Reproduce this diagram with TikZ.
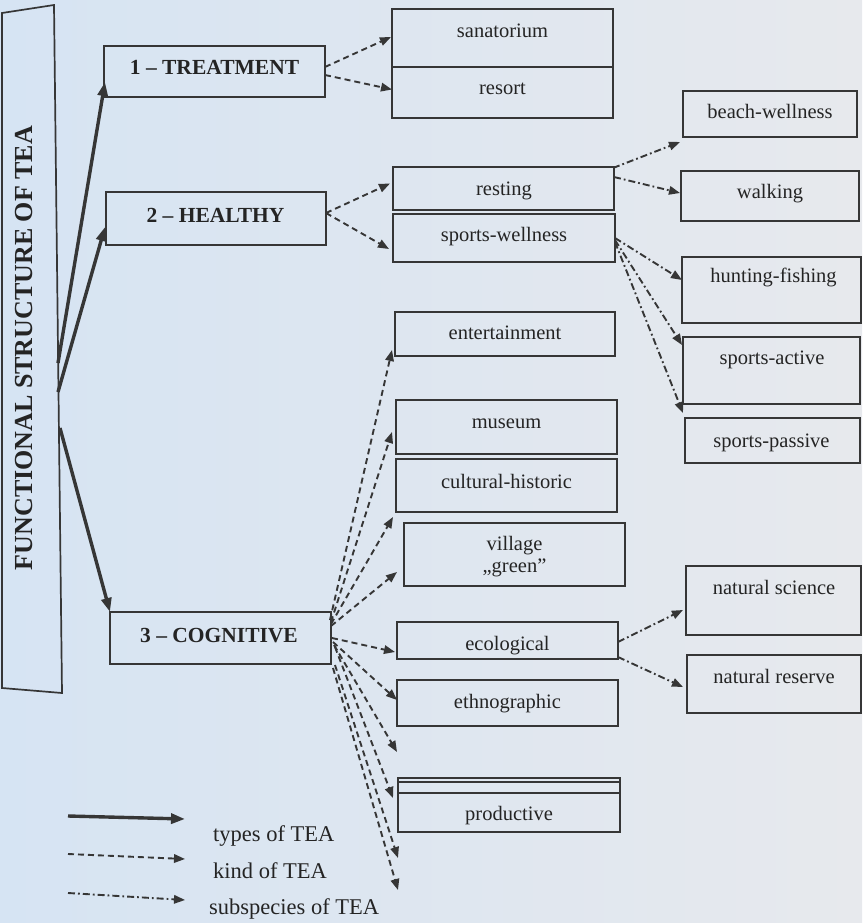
\documentclass[tikz,border=0pt]{standalone}
\usepackage{fontspec}
\setmainfont{Liberation Serif}
\usetikzlibrary{arrows.meta,calc}
\definecolor{ink}{HTML}{363636}
\definecolor{txt}{HTML}{242424}
\definecolor{bgl}{HTML}{D6E4F3}
\definecolor{bgr}{HTML}{E7E9ED}
\newcommand\mkbox[5]{\node[box, minimum width={(#4-#2)*1pt}, minimum height={(#5-#3)*1pt}] (#1) at ({(#2+#4)/2},{(#3+#5)/2}) {};}
\newcommand\mklbl[4]{\node[lbl] (#1) at (#2,#3) {#4};}
\newcommand\mkmain[4]{\node[mainlbl] (#1) at (#2,#3) {#4};}
\begin{document}
\begin{tikzpicture}[x=1pt,y=-1pt,
  box/.style={draw=ink, line width=1.7pt, inner sep=0pt, outer sep=0pt},
  lbl/.style={text=txt, font=\fontsize{20.5}{22}\selectfont, anchor=base, inner sep=0pt},
  mainlbl/.style={text=txt, font=\bfseries\fontsize{21.5}{23}\selectfont, anchor=base, inner sep=0pt},
  leglbl/.style={text=txt, font=\fontsize{22.5}{24}\selectfont, anchor=base west, inner sep=0pt},
  solidarr/.style={draw=ink, line width=3.4pt, -{Triangle[length=14pt,width=10pt]}},
  kindarr/.style={draw=ink, line width=1.9pt, dash pattern=on 6pt off 4pt, -{Triangle[length=11pt,width=8.5pt]}},
  subarr/.style={draw=ink, line width=1.9pt, dash pattern=on 7pt off 3pt on 1.8pt off 3pt, -{Triangle[length=11pt,width=8.5pt]}}
]
\useasboundingbox (0,0) rectangle (862,923);
\shade[left color=bgl, right color=bgr] (0,0) rectangle (862,923);

% left tall box with title
\draw[draw=ink, line width=1.7pt] (2,13) -- (54,5) -- (62,693) -- (2,688) -- cycle;
\node[rotate=90, text=txt, font=\bfseries\fontsize{26}{28}\selectfont, inner sep=0pt] (title) at (24,348) {FUNCTIONAL STRUCTURE OF TEA};
\coordinate (s1) at (58,363);
\coordinate (s2) at (58,392);
\coordinate (s3) at (60,428);

% types
\mkbox{treat}{104}{46}{325}{97}
\mkmain{treat-l}{214.5}{75}{1 – TREATMENT}
\mkbox{healthy}{106}{192}{326}{245}
\mkmain{healthy-l}{215.5}{222}{2 – HEALTHY}
\mkbox{cog}{110}{612}{331}{664}
\mkmain{cog-l}{219}{642}{3 – COGNITIVE}

% kinds
\mkbox{sana}{392}{9}{613}{67}
\mklbl{sana-l}{502.5}{38}{sanatorium}
\mkbox{resort}{392}{67}{613}{118}
\mklbl{resort-l}{502.5}{95}{resort}
\mkbox{resting}{393}{167}{614}{210}
\mklbl{resting-l}{504}{195}{resting}
\mkbox{sportsw}{393}{214}{615}{262}
\mklbl{sportsw-l}{504}{241}{sports-wellness}
\mkbox{entert}{395}{312}{615}{356}
\mklbl{entert-l}{505}{339}{entertainment}
\mkbox{museum}{396}{400}{617}{454}
\mklbl{museum-l}{506.5}{428}{museum}
\mkbox{cultural}{396}{459}{617}{512}
\mklbl{cultural-l}{506.5}{488}{cultural-historic}
\mkbox{village}{404}{523}{625}{586}
\node[text=txt, font=\fontsize{20.5}{22}\selectfont, align=center, inner sep=0pt] (village-l) at (514.5,557) {village\\„green”};
\mkbox{ecol}{397}{622}{618}{659}
\mklbl{ecol-l}{507.5}{650}{ecological}
\mkbox{ethno}{397}{680}{618}{726}
\mklbl{ethno-l}{507.5}{708}{ethnographic}
\mkbox{prod}{398}{778}{620}{832}
\draw[draw=ink, line width=1.1pt] ($(prod.north west)+(0,4)$) -- ($(prod.north east)+(0,4)$);
\draw[draw=ink, line width=1.5pt] ($(prod.north west)+(0,15)$) -- ($(prod.north east)+(0,15)$);
\mklbl{prod-l}{509}{820}{productive}

% subspecies
\mkbox{beach}{683}{91}{857}{137}
\mklbl{beach-l}{770}{119}{beach-wellness}
\mkbox{walking}{681}{171}{859}{221}
\mklbl{walking-l}{770}{198}{walking}
\mkbox{hunting}{682}{257}{861}{323}
\mklbl{hunting-l}{773.5}{282}{hunting-fishing}
\mkbox{sactive}{683}{337}{860}{404}
\mklbl{sactive-l}{772}{364}{sports-active}
\mkbox{spassive}{685}{418}{860}{463}
\mklbl{spassive-l}{771.5}{447}{sports-passive}
\mkbox{natsci}{686}{566}{861}{635}
\mklbl{natsci-l}{774}{594}{natural science}
\mkbox{natres}{687}{655}{861}{713}
\mklbl{natres-l}{774}{683}{natural reserve}

% free ends
\coordinate (f1) at (397,752);
\coordinate (f2) at (398,858);
\coordinate (f3) at (398,890);

% types arrows
\draw[solidarr] (s1) -- ($(treat.south west)+(1,-15)$);
\draw[solidarr] (s2) -- ($(healthy.south west)+(-1,-18)$);
\draw[solidarr] (s3) -- (cog.north west);

% kind arrows
\draw[kindarr] ($(treat.north east)+(0,21)$) -- ($(sana.west)+(-1,-1)$);
\draw[kindarr] ($(treat.north east)+(0,29)$) -- ($(resort.west)+(0,-3)$);
\draw[kindarr] ($(healthy.north east)+(0,21)$) -- ($(resting.west)+(-3,-5)$);
\draw[kindarr] ($(healthy.north east)+(0,21)$) -- ($(sportsw.west)+(-4,11)$);
\draw[kindarr] ($(cog.north east)+(-1,8)$) -- ($(entert.south west)+(-3,-6)$);
\draw[kindarr] ($(cog.north east)+(0,10)$) -- ($(museum.west)+(-4,5)$);
\draw[kindarr] ($(cog.north east)+(0,12)$) -- ($(cultural.south west)+(-3,5)$);
\draw[kindarr] ($(cog.north east)+(0,14)$) -- ($(village.south west)+(-7,-14)$);
\draw[kindarr] ($(cog.north east)+(1,26)$) -- ($(ecol.west)+(-2,11.5)$);
\draw[kindarr] ($(cog.north east)+(2,30)$) -- ($(ethno.west)+(0,-3)$);
\draw[kindarr] ($(cog.north east)+(3,33)$) -- (f1);
\draw[kindarr] ($(cog.north east)+(4,35)$) -- ($(prod.north west)+(-5,20)$);
\draw[kindarr] ($(cog.south east)+(4,1)$) -- (f2);
\draw[kindarr] ($(cog.south east)+(2,4)$) -- (f3);

% subspecies arrows
\draw[subarr] ($(resting.north east)+(-1,1)$) -- ($(beach.south west)+(-3,5)$);
\draw[subarr] ($(resting.north east)+(0,10)$) -- ($(walking.west)+(-1,-3)$);
\draw[subarr] ($(sportsw.north east)+(0,24)$) -- ($(hunting.west)+(0,-10)$);
\draw[subarr] ($(sportsw.north east)+(0,26)$) -- ($(sactive.west)+(-1,-25.5)$);
\draw[subarr] ($(sportsw.north east)+(0,28)$) -- ($(spassive.north west)+(-2,-5)$);
\draw[subarr] ($(ecol.north east)+(0,20)$) -- ($(natsci.south west)+(-3,-25)$);
\draw[subarr] ($(ecol.north east)+(0,35)$) -- ($(natres.west)+(-4,3)$);

% legend
\coordinate (la1) at (68,816); \coordinate (lb1) at (185,819);
\coordinate (la2) at (68,854); \coordinate (lb2) at (185,859);
\coordinate (la3) at (68,893); \coordinate (lb3) at (185,900);
\draw[solidarr] (la1) -- (lb1);
\draw[kindarr] (la2) -- (lb2);
\draw[subarr] (la3) -- (lb3);
\node[leglbl] (leg1) at (213,841) {types of TEA};
\node[leglbl] (leg2) at (213,878) {kind of TEA};
\node[leglbl] (leg3) at (209,914) {subspecies of TEA};
\end{tikzpicture}
\end{document}
